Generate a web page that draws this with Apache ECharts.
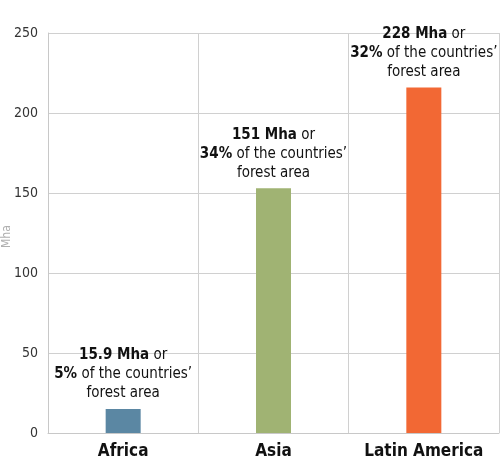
<!DOCTYPE html>
<html>
<head>
<meta charset="utf-8">
<script src="https://cdn.jsdelivr.net/npm/echarts@6/dist/echarts.min.js"></script>
<style>
  html, body { margin: 0; padding: 0; background: #fff; }
  #chart { width: 504px; height: 468px; }
</style>
</head>
<body>
<div id="chart"></div>
<script>
const regions = ['Africa', 'Asia', 'Latin America']
// bar heights as drawn (Mha)
const barValues = [15, 153, 216]
const labelMha = ['15.9', '151', '228']
const labelShare = ['5%', '34%', '32%']
const barColors = ['#5b87a3', '#a0b373', '#f26834']
const yTicks = [0, 50, 100, 150, 200, 250]

const font = '"DejaVu Sans Condensed", "Liberation Sans Narrow", sans-serif'

const chart = echarts.init(document.getElementById('chart'))

const option = {
  animation: false,
  grid: { left: 48, right: 5, top: 33, bottom: 35, containLabel: false, outerBoundsMode: 'none' },
  // axis title, drawn as plain text at the far left
  graphic: [
    {
      type: 'text',
      x: 1,
      y: 248,
      rotation: Math.PI / 2,
      style: {
        text: 'Mha',
        fill: '#b0b0b0',
        font: '12px ' + font
      }
    }
  ],
  xAxis: {
    type: 'category',
    data: regions,
    axisLine: { show: true, lineStyle: { color: '#c8c8c8' } },
    axisTick: { show: false },
    splitLine: { show: true, interval: 0, lineStyle: { color: '#d0d0d0', width: 1 } },
    axisLabel: {
      interval: 0,
      color: '#111',
      fontFamily: font,
      fontWeight: 'bold',
      fontSize: 17,
      margin: 10
    }
  },
  yAxis: {
    type: 'value',
    min: yTicks[0],
    max: yTicks[yTicks.length - 1],
    interval: 50,
    axisLine: { show: true, lineStyle: { color: '#c8c8c8' } },
    axisTick: { show: false },
    splitLine: { lineStyle: { color: '#d0d0d0', width: 1 } },
    axisLabel: { color: '#333', fontFamily: font, fontSize: 14, margin: 10 }
  },
  series: [
    {
      type: 'bar',
      barWidth: 35,
      data: barValues.map((v, i) => ({
        value: v,
        itemStyle: { color: barColors[i] }
      })),
      label: {
        show: true,
        position: 'top',
        distance: 6,
        align: 'center',
        fontFamily: font,
        fontSize: 15,
        color: '#111',
        lineHeight: 19,
        formatter: (p) => {
          const i = p.dataIndex
          return `{b|${labelMha[i]} Mha} or\n{b|${labelShare[i]}} of the countries’\nforest area`
        },
        rich: {
          b: { fontWeight: 'bold', fontFamily: font, fontSize: 15, color: '#111', lineHeight: 19 }
        }
      }
    }
  ]
}

chart.setOption(option)
</script>
</body>
</html>
